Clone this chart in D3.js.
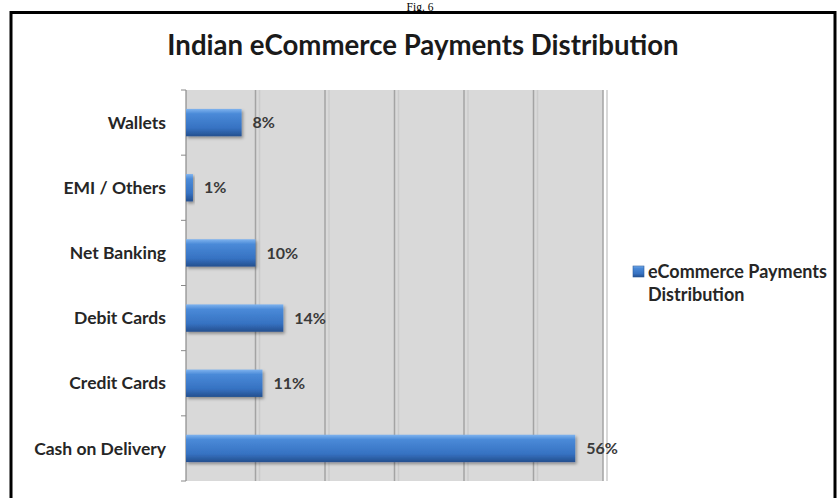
<!DOCTYPE html>
<html>
<head>
<meta charset="utf-8">
<script src="https://cdn.jsdelivr.net/npm/d3@7"></script>
<style>
  body { margin: 0; background: #fff; }
  svg { display: block; }
</style>
</head>
<body>
<div id="chart"></div>
<script>
// data (top to bottom)
var categories = ["Wallets", "EMI / Others", "Net Banking", "Debit Cards", "Credit Cards", "Cash on Delivery"];
var shares = [8, 1, 10, 14, 11, 56];
var gridTicks = [0, 10, 20, 30, 40, 50, 60];
var seriesName = ["eCommerce Payments", "Distribution"];
var chartTitle = "Indian eCommerce Payments Distribution";

var w = 839, h = 498;
var plot = {left: 186, top: 90, right: 603, bottom: 481};
var labelFont = "Lato, 'Open Sans', sans-serif";

var svg = d3.select("#chart").append("svg").attr("width", w).attr("height", h);
var defs = svg.append("defs");

// bar gradient, lighter on top, like the Excel 3d bars
var grad = defs.append("linearGradient")
  .attr("id", "bargrad").attr("x1", 0).attr("y1", 0).attr("x2", 0).attr("y2", 1);
grad.append("stop").attr("offset", "0%").attr("stop-color", "#7fb3ee");
grad.append("stop").attr("offset", "18%").attr("stop-color", "#4a8ad8");
grad.append("stop").attr("offset", "70%").attr("stop-color", "#3672c2");
grad.append("stop").attr("offset", "100%").attr("stop-color", "#244f8e");

var shadow = defs.append("filter").attr("id", "shadow")
  .attr("x", "-10%").attr("y", "-20%").attr("width", "130%").attr("height", "160%");
shadow.append("feDropShadow").attr("dx", 1.5).attr("dy", 2).attr("stdDeviation", 1.5)
  .attr("flood-color", "#000").attr("flood-opacity", 0.35);

// Fig caption above the frame
svg.append("text")
  .attr("x", 420).attr("y", 10.5)
  .attr("text-anchor", "middle")
  .attr("font-family", "'Liberation Serif', 'DejaVu Serif', serif")
  .attr("font-size", 11.5)
  .text("Fig. 6");

// frame around the figure
svg.append("path")
  .attr("d", "M11,500 L11,12.5 L835,12.5 L835,500")
  .attr("fill", "none").attr("stroke", "#000").attr("stroke-width", 3);

// title
svg.append("text")
  .attr("x", 423).attr("y", 55)
  .attr("text-anchor", "middle")
  .attr("font-family", labelFont)
  .attr("font-weight", "bold")
  .attr("font-size", 27.6)
  .attr("fill", "#1a1a1a")
  .text(chartTitle);

var x = d3.scaleLinear().domain([0, 60]).range([plot.left, plot.right]);
var y = d3.scaleBand().domain(categories).range([plot.top, plot.bottom]).paddingInner(0.58).paddingOuter(0.29);

// plot background
svg.append("rect")
  .attr("x", plot.left).attr("y", plot.top)
  .attr("width", plot.right - plot.left).attr("height", plot.bottom - plot.top)
  .attr("fill", "#d9d9d9");

// gridlines (with the faint second line next to each)
var grid = svg.append("g");
grid.selectAll("line.soft").data(gridTicks.slice(1)).enter().append("line")
  .attr("class", "soft")
  .attr("x1", function(d){ return x(d) + 4; }).attr("x2", function(d){ return x(d) + 4; })
  .attr("y1", plot.top).attr("y2", plot.bottom)
  .attr("stroke", "#cbcbcb").attr("stroke-width", 1.5);
grid.selectAll("line.main").data(gridTicks.slice(1)).enter().append("line")
  .attr("class", "main")
  .attr("x1", function(d){ return x(d); }).attr("x2", function(d){ return x(d); })
  .attr("y1", plot.top).attr("y2", plot.bottom)
  .attr("stroke", "#a3a3a3").attr("stroke-width", 1.5);

// category axis line with ticks between categories
var yAxis = svg.append("g");
yAxis.append("line")
  .attr("x1", plot.left).attr("x2", plot.left)
  .attr("y1", plot.top).attr("y2", plot.bottom)
  .attr("stroke", "#8a8a8a").attr("stroke-width", 1.2);
var bounds = d3.range(categories.length + 1).map(function(i){ return plot.top + i * (plot.bottom - plot.top) / categories.length; });
yAxis.selectAll("line.tick").data(bounds).enter().append("line")
  .attr("class", "tick")
  .attr("x1", plot.left - 5).attr("x2", plot.left)
  .attr("y1", function(d){ return d; }).attr("y2", function(d){ return d; })
  .attr("stroke", "#8a8a8a").attr("stroke-width", 1);

yAxis.selectAll("text").data(categories).enter().append("text")
  .attr("x", plot.left - 20)
  .attr("y", function(d){ return y(d) + y.bandwidth() / 2; })
  .attr("dy", "0.35em")
  .attr("text-anchor", "end")
  .attr("font-family", labelFont)
  .attr("font-weight", "bold")
  .attr("font-size", 17.5)
  .attr("fill", "#262626")
  .text(function(d){ return d; });

// bars
var rows = categories.map(function(c, i){ return {name: c, value: shares[i]}; });
svg.append("g").selectAll("rect").data(rows).enter().append("rect")
  .attr("x", x(0))
  .attr("y", function(d){ return y(d.name); })
  .attr("width", function(d){ return x(d.value) - x(0); })
  .attr("height", y.bandwidth())
  .attr("fill", "url(#bargrad)")
  .attr("filter", "url(#shadow)");

// value labels
svg.append("g").selectAll("text").data(rows).enter().append("text")
  .attr("x", function(d){ return x(d.value) + 11; })
  .attr("y", function(d){ return y(d.name) + y.bandwidth() / 2; })
  .attr("dy", "0.35em")
  .attr("font-family", labelFont)
  .attr("font-weight", "bold")
  .attr("font-size", 16)
  .attr("fill", "#3a3a3a")
  .text(function(d){ return d.value + "%"; });

// legend
var legend = svg.append("g").attr("transform", "translate(633,266)");
legend.append("rect")
  .attr("width", 11).attr("height", 11)
  .attr("fill", "url(#bargrad)").attr("stroke", "#2b5a9c").attr("stroke-width", 0.6);
legend.selectAll("text").data(seriesName).enter().append("text")
  .attr("x", 15)
  .attr("y", function(d, i){ return 12 + i * 23; })
  .attr("font-family", labelFont)
  .attr("font-weight", "bold")
  .attr("font-size", 18)
  .attr("fill", "#262626")
  .text(function(d){ return d; });
</script>
</body>
</html>
